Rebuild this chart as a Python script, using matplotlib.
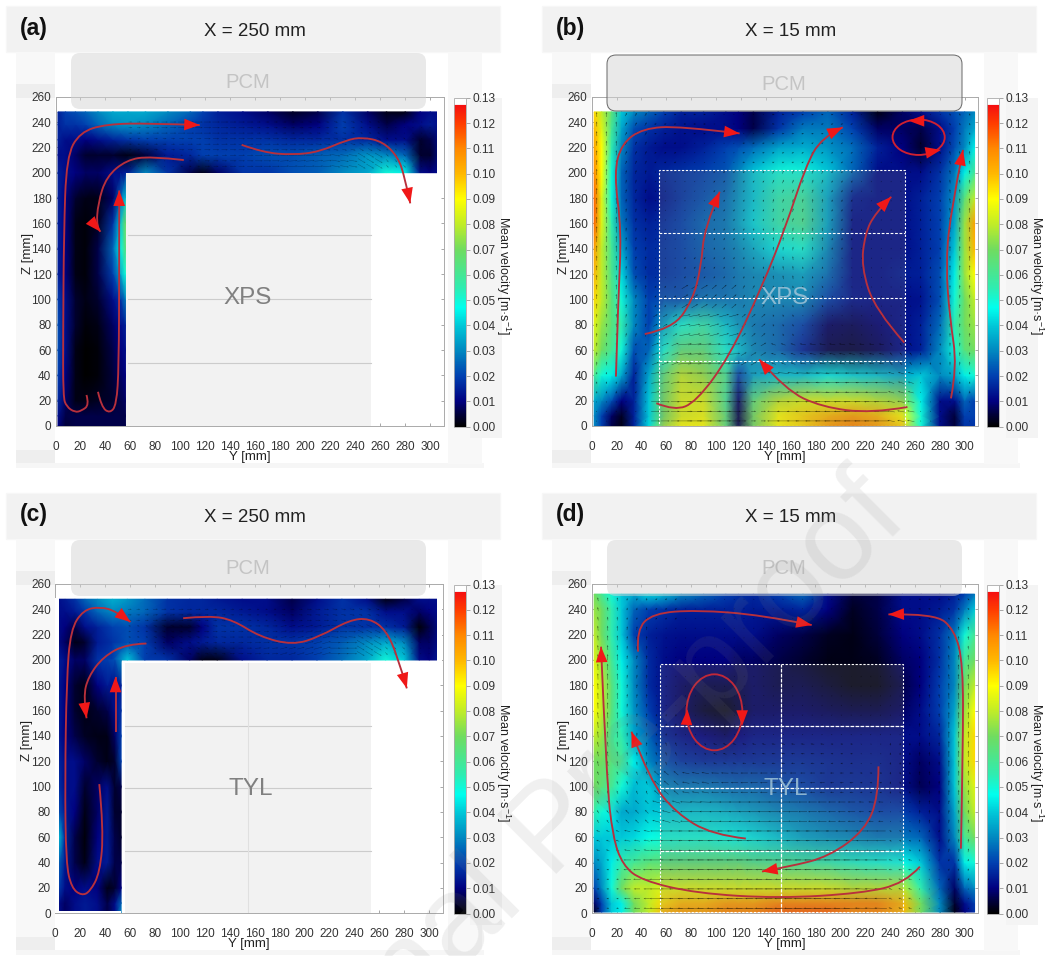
import numpy as np
import matplotlib
matplotlib.use("Agg")
from matplotlib import pyplot as plt
from matplotlib.colors import LinearSegmentedColormap
from matplotlib.patches import Rectangle, FancyBboxPatch, Ellipse, PathPatch
from matplotlib.path import Path

plt.rcParams['font.family'] = ['Liberation Sans', 'DejaVu Sans']
plt.rcParams['mathtext.default'] = 'regular'
W, H = 1062, 956

# ---- data ----
Y_NODES = [2, 8, 16, 24, 34, 46, 58, 72, 90, 108, 118, 130, 150, 170, 190, 210, 230, 250, 265, 280, 292, 300, 308]
Z_NODES_B = [0, 8, 20, 40, 60, 80, 100, 120, 140, 160, 180, 200, 220, 235, 248]
Z_NODES_D = [1, 8, 20, 40, 60, 80, 100, 120, 140, 160, 180, 200, 220, 240, 252]
Z_BAND = [200, 214, 226, 238, 248]
Y_LEG = [2, 8, 16, 24, 34, 46, 52, 56]
Y_LEG_C = [3, 8, 16, 24, 34, 42, 48, 53]
Z_LEG = [0, 8, 20, 40, 60, 80, 100, 120, 140, 160, 180, 200]

SPEED_B = [
    [.030, .020, .006, .002, .015, .042, .075, .090, .090, .065, .006, .070, .090, .095, .105, .110, .105, .095, .050, .012, .005, .018, .018],
    [.030, .020, .008, .003, .015, .040, .070, .085, .088, .065, .006, .070, .090, .095, .100, .105, .100, .090, .050, .012, .005, .020, .020],
    [.035, .030, .022, .010, .015, .040, .070, .085, .085, .060, .008, .065, .080, .085, .085, .085, .080, .075, .045, .012, .012, .025, .020],
    [.060, .050, .045, .035, .015, .035, .065, .080, .075, .060, .020, .035, .040, .040, .045, .042, .040, .035, .040, .030, .035, .045, .050],
    [.080, .070, .060, .050, .022, .025, .050, .065, .065, .050, .040, .030, .025, .015, .006, .005, .007, .012, .015, .030, .050, .065, .070],
    [.085, .075, .065, .055, .030, .020, .035, .050, .055, .040, .033, .028, .025, .020, .008, .007, .009, .012, .015, .026, .055, .070, .075],
    [.095, .080, .065, .050, .030, .020, .022, .022, .027, .027, .028, .030, .030, .030, .020, .013, .012, .012, .013, .022, .050, .070, .080],
    [.100, .080, .062, .042, .022, .017, .018, .020, .022, .025, .028, .030, .032, .035, .026, .012, .012, .014, .015, .022, .045, .075, .090],
    [.105, .080, .060, .035, .020, .017, .018, .020, .024, .027, .030, .036, .045, .050, .030, .012, .012, .012, .015, .020, .040, .075, .100],
    [.115, .085, .055, .028, .018, .015, .017, .020, .025, .028, .034, .042, .055, .060, .035, .012, .012, .012, .015, .020, .035, .075, .105],
    [.115, .085, .050, .025, .016, .012, .014, .018, .022, .026, .032, .040, .055, .058, .035, .014, .012, .012, .015, .020, .032, .065, .080],
    [.110, .090, .050, .025, .016, .014, .016, .018, .020, .023, .030, .040, .050, .050, .040, .025, .012, .012, .012, .018, .028, .045, .060],
    [.105, .090, .055, .030, .018, .014, .012, .012, .015, .020, .022, .026, .034, .036, .032, .026, .015, .010, .004, .012, .022, .030, .045],
    [.100, .085, .060, .035, .022, .018, .015, .013, .012, .012, .010, .006, .018, .028, .028, .020, .008, .008, .006, .012, .020, .028, .035],
    [.095, .080, .065, .040, .030, .025, .020, .015, .015, .012, .010, .006, .015, .020, .025, .015, .002, .008, .012, .018, .022, .025, .030],
]

SPEED_D = [
    [.003, .020, .040, .045, .070, .080, .100, .105, .105, .110, .110, .110, .115, .115, .115, .110, .110, .100, .070, .030, .002, .010, .018],
    [.008, .020, .040, .045, .070, .080, .095, .100, .100, .105, .105, .105, .110, .110, .110, .110, .110, .100, .070, .030, .004, .012, .020],
    [.020, .030, .050, .070, .080, .080, .085, .085, .085, .085, .085, .085, .085, .085, .085, .080, .080, .080, .055, .025, .008, .025, .030],
    [.030, .035, .045, .055, .060, .065, .065, .065, .065, .065, .065, .062, .060, .058, .055, .052, .050, .048, .040, .018, .018, .045, .050],
    [.040, .040, .040, .040, .042, .048, .050, .050, .050, .048, .046, .044, .040, .035, .032, .030, .028, .028, .025, .012, .030, .060, .070],
    [.055, .050, .045, .035, .035, .040, .040, .040, .040, .038, .036, .034, .030, .028, .025, .022, .020, .020, .015, .012, .035, .070, .080],
    [.070, .065, .060, .050, .038, .040, .030, .028, .028, .026, .025, .025, .022, .020, .016, .016, .015, .012, .007, .010, .040, .075, .085],
    [.070, .070, .065, .060, .045, .030, .022, .018, .016, .016, .016, .016, .016, .016, .015, .014, .014, .012, .008, .012, .040, .080, .095],
    [.080, .075, .060, .055, .035, .025, .015, .012, .010, .008, .010, .012, .012, .012, .012, .012, .012, .012, .012, .016, .040, .080, .095],
    [.090, .080, .065, .050, .032, .020, .012, .008, .004, .002, .005, .008, .008, .008, .007, .006, .006, .008, .012, .020, .035, .075, .090],
    [.090, .080, .065, .050, .030, .017, .012, .008, .006, .006, .006, .008, .006, .006, .004, .002, .002, .006, .010, .020, .030, .070, .080],
    [.085, .075, .060, .045, .030, .017, .012, .010, .010, .010, .008, .008, .006, .004, .002, .002, .003, .008, .010, .018, .030, .060, .070],
    [.080, .070, .055, .040, .020, .015, .013, .012, .012, .012, .012, .012, .008, .006, .003, .002, .005, .010, .012, .018, .028, .050, .060],
    [.075, .070, .055, .040, .025, .020, .018, .015, .015, .015, .015, .014, .014, .016, .010, .003, .006, .012, .012, .014, .018, .028, .040],
    [.070, .060, .050, .040, .035, .042, .038, .030, .025, .020, .018, .016, .020, .025, .012, .005, .006, .012, .012, .012, .015, .020, .028],
]

BAND_A = [
    [.015, .012, .010, .008, .008, .012, .015, .030, .018, .006, .002, .008, .018, .018, .022, .024, .030, .035, .050, .045, .012, .010, .012],
    [.012, .012, .008, .004, .004, .004, .002, .005, .014, .016, .020, .020, .020, .022, .022, .024, .026, .032, .030, .025, .004, .004, .012],
    [.015, .012, .012, .010, .012, .015, .018, .020, .020, .020, .020, .018, .018, .018, .016, .016, .018, .016, .012, .012, .004, .006, .012],
    [.015, .018, .018, .020, .025, .030, .032, .030, .025, .020, .018, .016, .014, .012, .008, .010, .020, .012, .006, .010, .012, .014, .012],
    [.015, .020, .022, .025, .030, .035, .035, .035, .030, .025, .020, .015, .012, .008, .003, .006, .018, .008, .002, .002, .010, .012, .012],
]
LEG_A = [
    [.010, .005, .006, .006, .006, .006, .006, .006],
    [.012, .006, .006, .006, .006, .006, .006, .006],
    [.016, .008, .002, .002, .003, .004, .006, .008],
    [.020, .010, .002, .000, .001, .005, .008, .010],
    [.022, .012, .002, .000, .001, .006, .010, .012],
    [.022, .012, .004, .001, .002, .008, .012, .015],
    [.020, .012, .004, .002, .004, .012, .018, .028],
    [.015, .010, .002, .001, .006, .020, .035, .050],
    [.015, .010, .002, .001, .006, .025, .045, .065],
    [.015, .010, .002, .001, .003, .018, .040, .070],
    [.015, .010, .004, .002, .002, .008, .025, .040],
    [.015, .012, .010, .008, .008, .012, .012, .015],
]
BAND_C = [
    [.015, .012, .008, .008, .018, .020, .040, .020, .018, .008, .002, .002, .012, .016, .016, .020, .026, .035, .050, .040, .012, .010, .014],
    [.012, .008, .002, .004, .014, .018, .022, .020, .008, .012, .014, .016, .016, .018, .018, .020, .024, .030, .035, .030, .008, .008, .012],
    [.012, .010, .006, .012, .015, .020, .022, .018, .004, .004, .010, .018, .018, .016, .012, .014, .018, .018, .018, .014, .001, .006, .012],
    [.012, .012, .014, .018, .025, .030, .028, .025, .018, .016, .016, .016, .014, .012, .008, .014, .018, .018, .012, .012, .008, .010, .012],
    [.012, .014, .018, .025, .030, .036, .032, .026, .018, .016, .016, .014, .012, .012, .006, .012, .018, .012, .002, .006, .012, .012, .012],
]
LEG_C = [
    [.012, .008, .012, .014, .012, .006, .012, .030],
    [.012, .008, .012, .014, .012, .006, .012, .025],
    [.020, .012, .010, .012, .010, .002, .004, .010],
    [.025, .014, .006, .002, .012, .014, .006, .006],
    [.040, .016, .006, .001, .010, .014, .006, .004],
    [.022, .014, .010, .002, .008, .014, .004, .004],
    [.018, .012, .012, .004, .008, .012, .004, .006],
    [.016, .012, .012, .008, .004, .002, .004, .020],
    [.014, .010, .006, .003, .002, .002, .008, .020],
    [.014, .010, .004, .002, .004, .006, .012, .018],
    [.014, .010, .004, .002, .010, .014, .012, .015],
    [.015, .012, .008, .008, .018, .020, .022, .030],
]

# flow arrows: direction (deg) and length (mm) for blocks of arrows, top row first
ARROW_ANGLE_B = [
    [95, 60, 10, 0, 0, -20, -10, 15, 20, 30, 170, 170, 110],
    [90, 65, 30, 15, 20, 10, 20, 30, 40, 60, 150, 120, 100],
    [90, 80, 60, 50, 50, 55, 65, 70, 60, 70, 90, 100, 95],
    [90, 85, 70, 60, 60, 65, 75, 80, 70, 75, 90, 95, 95],
    [90, 85, 75, 60, 65, 75, 85, 85, 80, 80, 95, 95, 90],
    [90, 85, 70, 50, 55, 75, 95, 100, 100, 95, 100, 95, 90],
    [90, 85, 55, 30, 40, 60, 100, 120, 120, 110, 100, 95, 90],
    [90, 80, 30, 10, 15, 40, 110, 130, 130, 120, 100, 95, 90],
    [85, 70, 20, 5, 5, 30, 160, 170, 170, 170, 130, 95, 90],
    [75, 50, 10, 0, 0, 0, 175, 178, 180, 180, 165, 110, 95],
    [70, 40, 0, 0, 0, 0, 180, 180, 180, 180, 170, 120, 100],
]
ARROW_LEN_B = [
    [4, 3, 2, 2, 1, 1, 2, 2, 2, 1, 1, 1, 2],
    [4, 3, 2, 1, 1, 2, 2, 2, 2, 1, 1, 2, 3],
    [5, 3, 1, 1, 2, 2, 3, 3, 2, 1, 1, 2, 3],
    [5, 3, 1, 1, 2, 2, 3, 3, 2, 1, 1, 2, 4],
    [5, 3, 1, 1, 2, 2, 3, 3, 2, 1, 1, 2, 4],
    [4, 3, 1, 2, 2, 2, 3, 2, 1, 1, 1, 2, 4],
    [4, 3, 2, 6, 5, 3, 2, 2, 1, 1, 1, 2, 3],
    [3, 3, 4, 9, 8, 4, 2, 1, 1, 1, 1, 2, 3],
    [3, 2, 6, 11, 10, 5, 4, 5, 5, 4, 3, 2, 3],
    [2, 2, 7, 12, 12, 5, 9, 11, 11, 10, 5, 1, 2],
    [1, 1, 7, 12, 11, 4, 10, 12, 13, 12, 6, 1, 1],
]
ARROW_ANGLE_D = [
    [100, 80, 40, 10, 5, 0, -5, -10, 20, 150, 170, 170, 130],
    [95, 85, 60, 30, 20, 15, 10, 30, 90, 120, 150, 130, 100],
    [92, 85, 70, 45, 60, 100, 60, 60, 70, 80, 100, 100, 95],
    [92, 85, 75, 60, 80, 200, 60, 50, 60, 70, 85, 95, 92],
    [95, 88, 85, 70, 130, 150, 170, 30, 30, 50, 80, 92, 90],
    [100, 95, 110, 130, 160, 170, 175, 175, 175, 150, 90, 90, 90],
    [110, 110, 140, 170, 178, 180, 180, 180, 180, 175, 100, 88, 88],
    [125, 135, 165, 178, 180, 180, 180, 180, 180, 178, 120, 85, 85],
    [160, 170, 180, 180, 180, 180, 180, 180, 180, 180, 150, 75, 80],
    [175, 180, 180, 180, 180, 180, 180, 180, 180, 180, 170, 60, 70],
    [180, 180, 180, 180, 180, 180, 180, 180, 180, 178, 160, 50, 60],
]
ARROW_LEN_D = [
    [3, 2, 2, 1, 1, 1, 1, 1, 1, 1, 1, 2, 2],
    [4, 3, 1, 1, 1, 1, 1, 1, 0, 1, 1, 2, 3],
    [5, 3, 1, 1, 1, 1, 0, 0, 0, 1, 1, 2, 4],
    [5, 3, 1, 1, 1, 1, 1, 1, 1, 1, 1, 3, 5],
    [5, 3, 2, 1, 1, 1, 1, 1, 1, 1, 1, 3, 5],
    [4, 3, 3, 2, 3, 3, 3, 3, 2, 1, 2, 3, 5],
    [3, 3, 5, 6, 6, 6, 5, 4, 3, 2, 2, 3, 4],
    [3, 4, 7, 9, 9, 9, 8, 7, 6, 4, 1, 3, 3],
    [3, 5, 10, 12, 12, 12, 11, 11, 10, 8, 2, 2, 3],
    [2, 6, 11, 13, 13, 13, 13, 13, 13, 10, 3, 1, 2],
    [2, 5, 11, 13, 13, 14, 14, 14, 13, 10, 3, 1, 1],
]
ARROW_ANGLE_BAND_A = [
    [0, 0, 0, 0, 0, 0, 0, -5, -10, -20, 0, 0],
    [0, 0, 0, 0, 0, 0, 0, -5, -15, -30, -40, 0],
    [0, 0, 0, 0, 0, 0, 5, 5, -10, -30, -50, 0],
]
ARROW_LEN_BAND_A = [
    [3, 5, 6, 6, 5, 3, 3, 3, 3, 2, 1, 1],
    [2, 3, 4, 5, 5, 5, 5, 5, 4, 4, 2, 1],
    [1, 1, 2, 4, 5, 6, 7, 7, 7, 7, 3, 1],
]
ARROW_ANGLE_BAND_C = [
    [0, 5, 0, 0, 0, 0, -5, -5, -10, -20, -30, 0],
    [-10, -20, -15, -5, 0, 0, 10, 10, -5, -25, -35, 0],
    [-20, -30, -20, -10, 0, 5, 15, 15, 0, -30, -45, 0],
]
ARROW_LEN_BAND_C = [
    [3, 4, 4, 3, 3, 2, 3, 4, 4, 3, 1, 1],
    [2, 3, 3, 4, 4, 4, 5, 6, 6, 5, 2, 1],
    [1, 2, 3, 3, 4, 5, 6, 7, 8, 7, 3, 1],
]

# red flow lines, in axis units (Y, Z), the last point is the arrow tip
LINES_A = [
    [(24.8, 24.5), (27, 16.6), (20.8, 12), (15.5, 10.8), (8.8, 15.3), (6.1, 23), (6.1, 73), (6.7, 152), (8.8, 212.6), (19.5, 232), (40.8, 238.4), (75.5, 239), (115.5, 237.6)],
    [(102.7, 210), (75.5, 213), (56.8, 210), (40.8, 197), (34, 176), (32.8, 157), (36, 153.4)],
    [(34, 27), (36.8, 15), (43.5, 10), (48.8, 16.6), (50.7, 47), (51, 126), (51, 186)],
    [(149, 222), (166, 216), (190, 214), (211.5, 216.6), (232.8, 225.8), (246, 228), (262, 224.5), (274, 212.6), (279.5, 196.8), (284, 175.8)],
]
LINES_B = [
    [(19.5, 39), (21.3, 99.5), (24, 154.7), (17.9, 199.5), (24, 223), (41.3, 235), (70.7, 236.8), (119, 231)],
    [(42.7, 72.6), (65.3, 77), (81.3, 99.5), (88, 125.8), (90.7, 157), (103, 185)],
    [(52, 18), (66.7, 12), (84, 19), (110.7, 54.7), (137, 110), (156, 157), (172, 204.7), (185, 228), (202, 235.8)],
    [(254, 15), (225, 10), (185, 15), (156, 28.4), (134.7, 52.6)],
    [(251.5, 65.8), (228, 91.6), (216.8, 125.8), (220, 152), (228, 168), (241, 181)],
    [(289, 21.8), (294, 46.8), (288, 86), (285, 125.8), (288, 165), (298.7, 218)],
]
LINES_C = [
    [(35.5, 102), (39, 66), (36, 32), (28, 17), (21.3, 14), (13.3, 20), (8.8, 39.5), (8, 105), (9.3, 184), (12.5, 224), (22.7, 239.5), (36, 242), (49, 238.6), (60.5, 230)],
    [(73.3, 213), (57.3, 212.6), (38.7, 202.6), (26.7, 186.8), (22.7, 171), (25.3, 154)],
    [(48.5, 143.4), (48.5, 186.8)],
    [(102.7, 233), (124, 235), (142.7, 231.6), (164, 218.4), (190.7, 211.8), (212, 218.4), (236, 231.6), (252, 233), (265.3, 223.7), (274.7, 202.6), (282, 177.6)],
]
LINES_D = [
    [(264, 36.8), (252, 23.7), (217, 15.8), (150.7, 11.8), (84, 15.8), (40, 26), (25, 38), (17, 60), (12, 105), (7.5, 210.5)],
    [(37.3, 206.6), (36, 223.7), (49, 236.8), (84, 239.5), (137, 235.5), (177, 227.6)],
    [(297, 51), (298.7, 131.6), (298.7, 197), (292, 223.7), (276, 236.8), (238.7, 236)],
    [(124, 59), (97, 62), (68, 79), (46.7, 105), (32, 143.4)],
    [(230.7, 116), (230.7, 92), (220, 65.8), (190.7, 44.7), (158.7, 36.8), (137, 33)],
]
# loop: centre, width, height; loop heads: tail and tip
LOOP_B = ((263, 228), 42, 28)
LOOP_HEADS_B = [((270, 241), (255, 241)), ((265, 215), (281, 218))]
LOOP_D = ((98.7, 158.7), 45, 60)
LOOP_HEADS_D = [((121, 168), (121, 148)), ((76, 145), (77, 161))]

Y_TICKS = list(range(0, 301, 20))
Z_TICKS = list(range(0, 261, 20))
CB_TICKS = [i / 100 for i in range(14)]
COLOR_VALUES = [0, .005, .01, .02, .03, .04, .047, .055, .07, .08, .09, .10, .11, .12, .127, .1275, .13]
COLOR_LIST = ['#000000', '#00003c', '#000080', '#0040b0', '#0088c0', '#00c8d8', '#00ffee', '#30ecb0', '#70dc60', '#c0ec28',
              '#ffff00', '#ffb800', '#ff8800', '#ff3c00', '#f51010', '#ffffff', '#ffffff']

cmap = LinearSegmentedColormap.from_list('flow', [(v / .13, c) for v, c in zip(COLOR_VALUES, COLOR_LIST)], N=512)


def px_axes(fig, left, top, right, bottom, **kw):
    # axes placed by pixel edges of the picture
    return fig.add_axes([left / W, 1 - bottom / H, (right - left) / W, (bottom - top) / H], **kw)


def smooth_line(points):
    # quadratic curve through midpoints of the points
    pts = np.array(points, dtype=float)
    if len(pts) < 3:
        return Path(pts)
    verts = [pts[0]]
    codes = [Path.MOVETO]
    for i in range(1, len(pts) - 1):
        end = pts[i + 1] if i == len(pts) - 2 else (pts[i] + pts[i + 1]) / 2
        verts += [pts[i], end]
        codes += [Path.CURVE3, Path.CURVE3]
    return Path(verts, codes)


def head(ax, tail, tip):
    ax.annotate('', xy=tip, xytext=tail, annotation_clip=False, zorder=8,
                arrowprops=dict(arrowstyle='-|>,head_length=0.8,head_width=0.3', color='#f01818',
                                lw=0, shrinkA=0, shrinkB=0, mutation_scale=14))


def draw_lines(ax, lines):
    for line in lines:
        ax.add_patch(PathPatch(smooth_line(line), fc='none', ec='#b8303c', lw=1.35, zorder=7))
        pts = np.array(line)
        d = pts[-1] - pts[-2]
        head(ax, pts[-1] - d / np.hypot(*d) * 12, pts[-1])


def draw_arrows(ax, yr, zr, angle, length, rep_y, rep_z, color='k', alpha=.6):
    ang = np.repeat(np.repeat(np.radians(angle), rep_z, axis=0), rep_y, axis=1)
    ln = np.repeat(np.repeat(np.array(length, dtype=float), rep_z, axis=0), rep_y, axis=1)
    yy, zz = np.meshgrid(np.linspace(yr[0], yr[1], ang.shape[1]), np.linspace(zr[1], zr[0], ang.shape[0]))
    ax.quiver(yy - ln * np.cos(ang) / 2, zz - ln * np.sin(ang) / 2, ln * np.cos(ang), ln * np.sin(ang),
              angles='xy', scale_units='xy', scale=1, width=.0012, headwidth=3.5, headlength=4.5, headaxislength=3.5,
              color=color, alpha=alpha, zorder=4)


def setup_axes(ax):
    ax.set_xlim(0, 311)
    ax.set_ylim(0, 260)
    ax.set_xticks(Y_TICKS)
    ax.set_yticks(Z_TICKS)
    ax.tick_params(direction='in', length=2.5, width=.6, color='#999999', labelsize=8.5, labelcolor='#333333',
                   pad=3, top=True, right=True)
    ax.tick_params(axis='x', pad=10.5)
    ax.set_xlabel('Y [mm]', fontsize=9.5, color='#222222', labelpad=-1)
    ax.set_ylabel('Z [mm]', fontsize=9.5, color='#222222', labelpad=-1.5, y=.525)
    for s in ax.spines.values():
        s.set_color('#aaaaaa')
        s.set_linewidth(.7)
    ax.set_facecolor('white')


def add_colorbar(fig, left, top, right, bottom, mappable):
    cax = px_axes(fig, left, top, right, bottom, zorder=2)
    cb = fig.colorbar(mappable, cax=cax)
    cb.set_ticks(CB_TICKS)
    cb.set_ticklabels(['%.2f' % t for t in CB_TICKS])
    cb.ax.tick_params(length=3, width=.6, color='#999999', labelsize=8.6, labelcolor='#333333', pad=2)
    cb.outline.set_edgecolor('#aaaaaa')
    cb.outline.set_linewidth(.6)
    cb.set_label('Mean velocity [m·s$^{-1}$]', rotation=270, fontsize=9, color='#222222', labelpad=12, y=.46)


def backdrop(bg, x0, y0, label, title):
    # grey slide furniture around each plot
    g = '#f2f2f2'
    bg.add_patch(Rectangle((x0 + 6, y0 + 6), 494, 46, fc=g, ec='#f7f7f7', lw=1))
    bg.add_patch(Rectangle((x0 + 16, y0 + 52), 39, 414, fc='#f8f8f8', ec='none'))
    bg.add_patch(Rectangle((x0 + 16, y0 + 84), 39, 14, fc='#eeeeee', ec='none'))
    bg.add_patch(Rectangle((x0 + 16, y0 + 450), 39, 14, fc='#eeeeee', ec='none'))
    bg.add_patch(Rectangle((x0 + 16, y0 + 463), 468, 5, fc='#f6f6f6', ec='none'))
    bg.add_patch(Rectangle((x0 + 448, y0 + 52), 34, 412, fc='#f8f8f8', ec='none'))
    bg.add_patch(Rectangle((x0 + 470, y0 + 98), 32, 340, fc='#f4f4f4', ec='none'))
    bg.text(x0 + 20, y0 + 28, label, fontsize=16.5, fontweight='bold', color='#111111', va='center')
    bg.text(x0 + 255, y0 + 31, title, fontsize=13.5, color='#222222', va='center', ha='center')


fig = plt.figure(figsize=(W / 100, H / 100), dpi=100, facecolor='white')
bg = px_axes(fig, 0, 0, W, H, zorder=0)
bg.set_xlim(0, W)
bg.set_ylim(H, 0)
bg.axis('off')
backdrop(bg, 0, 0, '(a)', 'X = 250 mm')
backdrop(bg, 536, 0, '(b)', 'X = 15 mm')
backdrop(bg, 0, 487, '(c)', 'X = 250 mm')
backdrop(bg, 536, 487, '(d)', 'X = 15 mm')

top = px_axes(fig, 0, 0, W, H, zorder=10)
top.set_xlim(0, W)
top.set_ylim(H, 0)
top.axis('off')


def pcm_box(x0, y0, outline):
    top.add_patch(FancyBboxPatch((x0, y0), 355, 56, boxstyle='round,pad=0,rounding_size=9',
                                 fc='#d4d4d4', alpha=.5, ec='none'))
    if outline:
        top.add_patch(FancyBboxPatch((x0, y0), 355, 56, boxstyle='round,pad=0,rounding_size=9',
                                     fc='none', ec='#666666', lw=.7))
    top.text(x0 + 177, y0 + 29, 'PCM', fontsize=14.6, color='#c4c4c4', ha='center', va='center')


# (a)
ax_a = px_axes(fig, 55.5, 96.7, 444, 426, zorder=2)
setup_axes(ax_a)
m = ax_a.pcolormesh(Y_NODES, Z_BAND, BAND_A, cmap=cmap, vmin=0, vmax=.13, shading='gouraud', zorder=2)
ax_a.pcolormesh(Y_LEG, Z_LEG, LEG_A, cmap=cmap, vmin=0, vmax=.13, shading='gouraud', zorder=2)
ax_a.add_patch(Rectangle((305, 199), 6, 52, fc='white', ec='none', zorder=3))
ax_a.add_patch(Rectangle((56.8, 0), 196, 199.5, fc='#f2f2f2', ec='none', zorder=3))
for z in [50, 100.5, 151]:
    ax_a.plot([58, 252.8], [z, z], color='#cccccc', lw=.8, zorder=3)
draw_arrows(ax_a, (60, 300), (205, 240), ARROW_ANGLE_BAND_A, ARROW_LEN_BAND_A, 3, 3, alpha=.35)
draw_lines(ax_a, LINES_A)
ax_a.text(154, 101, 'XPS', fontsize=17.5, color='#808080', ha='center', va='center', zorder=5)
add_colorbar(fig, 454, 97.7, 465.7, 426.7, m)

# (b)
ax_b = px_axes(fig, 591.7, 96.7, 978.3, 426, zorder=2)
setup_axes(ax_b)
m = ax_b.pcolormesh(Y_NODES, Z_NODES_B, SPEED_B, cmap=cmap, vmin=0, vmax=.13, shading='gouraud', zorder=2)
ax_b.add_patch(Rectangle((54, 0), 198, 202, fc='#808080', alpha=.22, ec='none', zorder=3))
draw_arrows(ax_b, (4, 304), (4, 246), ARROW_ANGLE_B, ARROW_LEN_B, 3, 3)
for z in [51, 101, 152]:
    ax_b.plot([54, 252], [z, z], color='white', lw=.8, ls=(0, (2.5, 1.5)), zorder=5)
ax_b.add_patch(Rectangle((54, 0), 198, 202, fc='none', ec='white', lw=.8, ls=(0, (2, 1.5)), zorder=5))
ax_b.text(155, 101, 'XPS', fontsize=17.5, color='#9fc4d8', alpha=.85, ha='center', va='center', zorder=5)
draw_lines(ax_b, LINES_B)
ax_b.add_patch(Ellipse(LOOP_B[0], LOOP_B[1], LOOP_B[2], fc='none', ec='#d02030', lw=1.35, zorder=7))
for t, p in LOOP_HEADS_B:
    head(ax_b, t, p)
add_colorbar(fig, 987, 97.7, 998.7, 426.7, m)

# (c)
ax_c = px_axes(fig, 55, 584, 443, 913.3, zorder=2)
setup_axes(ax_c)
m = ax_c.pcolormesh(Y_NODES, Z_BAND, BAND_C, cmap=cmap, vmin=0, vmax=.13, shading='gouraud', zorder=2)
ax_c.pcolormesh(Y_LEG_C, Z_LEG, LEG_C, cmap=cmap, vmin=0, vmax=.13, shading='gouraud', zorder=2)
ax_c.add_patch(Rectangle((0, 0), 3, 249, fc='white', ec='none', zorder=3))
ax_c.add_patch(Rectangle((306, 199), 4.5, 52, fc='white', ec='none', zorder=3))
ax_c.add_patch(Rectangle((3, 0), 50, 1.5, fc='white', ec='none', zorder=3))
ax_c.add_patch(Rectangle((56, .5), 197, 197, fc='#f2f2f2', ec='none', zorder=3))
for z in [49.5, 98.7, 148]:
    ax_c.plot([56, 253], [z, z], color='#cccccc', lw=.8, zorder=3)
ax_c.plot([154.7, 154.7], [.5, 197.5], color='#e0e0e0', lw=.8, zorder=3)
draw_arrows(ax_c, (60, 300), (205, 240), ARROW_ANGLE_BAND_C, ARROW_LEN_BAND_C, 3, 3, alpha=.35)
draw_lines(ax_c, LINES_C)
ax_c.text(157, 98, 'TYL', fontsize=17.5, color='#808080', ha='center', va='center', zorder=5)
add_colorbar(fig, 454, 584.5, 465.7, 913.5, m)

# (d)
ax_d = px_axes(fig, 591.7, 584, 978.3, 913.3, zorder=2)
setup_axes(ax_d)
m = ax_d.pcolormesh(Y_NODES, Z_NODES_D, SPEED_D, cmap=cmap, vmin=0, vmax=.13, shading='gouraud', zorder=2)
ax_d.add_patch(Rectangle((54.7, 1), 196, 196, fc='#808080', alpha=.22, ec='none', zorder=3))
draw_arrows(ax_d, (5, 303), (4, 248), ARROW_ANGLE_D, ARROW_LEN_D, 3, 3)
for z in [49.5, 98.7, 148]:
    ax_d.plot([54.7, 250.7], [z, z], color='white', lw=.9, ls=(0, (3, 1)), zorder=5)
ax_d.plot([152.5, 152.5], [1, 197], color='white', lw=.9, ls=(0, (3, 1)), zorder=5)
ax_d.add_patch(Rectangle((54.7, 1), 196, 196, fc='none', ec='white', lw=.8, ls=(0, (2, 1.5)), zorder=5))
ax_d.text(156, 98, 'TYL', fontsize=17.5, color='#9fc4d8', alpha=.85, ha='center', va='center', zorder=5)
draw_lines(ax_d, LINES_D)
ax_d.add_patch(Ellipse(LOOP_D[0], LOOP_D[1], LOOP_D[2], fc='none', ec='#c02838', lw=1.35, zorder=7))
for t, p in LOOP_HEADS_D:
    head(ax_d, t, p)
add_colorbar(fig, 987, 584.5, 998.7, 913.5, m)

pcm_box(71, 53, False)
pcm_box(607, 55, True)
pcm_box(71, 540, False)
pcm_box(607, 540, False)

top.text(888, 498, 'Journal Pre-proof', fontsize=88, color='#808080', alpha=.12, rotation=45,
         rotation_mode='anchor', ha='right', va='center')

fig.savefig('out.png', dpi=100)
